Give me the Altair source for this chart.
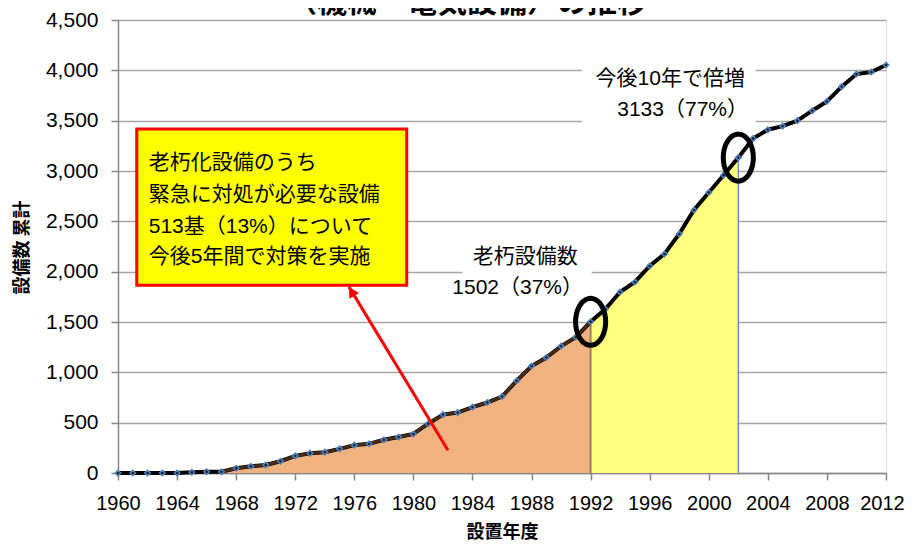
import math
import altair as alt
import pandas as pd

# ---- data ----
years = list(range(1960, 2013))
counts = [0, 0, 0, 0, 0, 7, 13, 13, 47, 67, 80, 117, 170, 197, 207, 240, 277, 290, 330, 357, 388,
          490, 580, 600, 654, 700, 760, 917, 1063, 1147, 1260, 1350, 1502,
          1629, 1798, 1898, 2057, 2176, 2375, 2613, 2786, 2958, 3133, 3323, 3410, 3446, 3500,
          3599, 3692, 3838, 3963, 3983, 4053]
tick_years = list(range(1960, 2013, 4))
y_ticks = list(range(0, 4501, 500))

aged_year = 1992
future_year = 2002
urgent_count = 513

title_text = "（機械・電気設備）の推移"
x_title = "設置年度"
y_title = "設備数 累計"

df = pd.DataFrame({"year": years, "count": counts})
total = counts[-1]
aged_count = counts[years.index(aged_year)]
future_count = counts[years.index(future_year)]
df_old = df[df.year <= aged_year]
df_fut = df[(df.year >= aged_year) & (df.year <= future_year)]

JP = "Liberation Sans, Noto Sans CJK JP"
NUM = "Liberation Sans"

xs = alt.Scale(domain=[1960, 2012], nice=False, zero=False)
ys = alt.Scale(domain=[0, 4500], nice=False, zero=True)

xaxis = alt.Axis(values=tick_years, format="d", title=x_title, grid=False,
                 labelFlush=False, labelOverlap=False, labelBound=False,
                 labelOffset={"condition": {"test": f"datum.value == {tick_years[-1]}", "value": -4}, "value": 0},
                 labelFont=NUM, labelFontSize=20, labelColor="#000000", labelPadding=13,
                 tickSize=7, tickColor="#868686", tickWidth=1.5,
                 domainColor="#868686", domainWidth=1.5,
                 titleFont="Noto Sans CJK JP", titleFontSize=18, titleFontWeight="bold",
                 titleColor="#000000", titleX=384, titleY=59, titleAlign="center",
                 titleBaseline="middle", titleAnchor="start")
yaxis = alt.Axis(values=y_ticks, format=",d", title=y_title, grid=True,
                 gridColor="#A6A6A6", gridWidth=1.5,
                 labelFont=NUM, labelFontSize=21, labelColor="#000000", labelPadding=13,
                 tickSize=7, tickColor="#868686", tickWidth=1.5,
                 domainColor="#868686", domainWidth=1.5,
                 titleFont="Noto Sans CJK JP", titleFontSize=18, titleFontWeight="bold",
                 titleColor="#000000", titleX=-96, titleY=227, titleAngle=270,
                 titleAlign="center", titleBaseline="middle", titleAnchor="start")

X = alt.X("year:Q", scale=xs, axis=xaxis)
Y = alt.Y("count:Q", scale=ys, axis=yaxis)

area_old = alt.Chart(df_old).mark_area(color="#F0B280", opacity=1).encode(x=X, y=Y)
area_fut = alt.Chart(df_fut).mark_area(color="#FFFF80", opacity=1).encode(x=X, y=Y)

vlines = pd.DataFrame({"year": [aged_year, future_year], "count": [aged_count, future_count],
                       "zero": [0, 0], "kind": ["old", "fut"]})
vrule = alt.Chart(vlines).mark_rule().encode(
    x=X, y=Y, y2=alt.Y2("zero:Q"),
    color=alt.Color("kind:N", scale=alt.Scale(domain=["old", "fut"], range=["#9C8070", "#4F81BD"]), legend=None),
    strokeWidth=alt.StrokeWidth("kind:N", scale=alt.Scale(domain=["old", "fut"], range=[2, 1.2]), legend=None),
)

# white label backgrounds
white_boxes = pd.DataFrame({"year": [1983.33, 1991.4], "year2": [1992.07, 2003.17],
                            "count": [2263, 4122], "count2": [1717, 3424]})
wbox = alt.Chart(white_boxes).mark_rect(color="#FFFFFF").encode(
    x=X, x2=alt.X2("year2:Q"), y=Y, y2=alt.Y2("count2:Q"))

line = alt.Chart(df).mark_line(color="#000000", strokeWidth=4).encode(x=X, y=Y)
line_old = alt.Chart(df_old[df_old.year >= 1967]).mark_line(color="#5C3A1E", strokeWidth=3, opacity=0.75).encode(x=X, y=Y)
markers = alt.Chart(df).mark_point(shape="diamond", filled=True, size=30, fill="#1A2430",
                                   stroke="#4F81BD", strokeWidth=1.5, opacity=1).encode(x=X, y=Y)

# ellipse highlights
n = 40
pts = [(0.64 * math.sin(2 * math.pi * i / n), -math.cos(2 * math.pi * i / n)) for i in range(n)]
ellipse = "M " + " L ".join(f"{a:.4f} {b:.4f}" for a, b in pts) + " Z"
circ_df = pd.DataFrame({"year": [aged_year, future_year], "count": [aged_count, future_count]})
circles = alt.Chart(circ_df).mark_point(shape=ellipse, filled=False, size=2209, color="#000000",
                                        strokeWidth=5, opacity=1).encode(x=X, y=Y)

# callout box
callout = pd.DataFrame({"year": [1961.27], "year2": [1979.55], "count": [3416], "count2": [1866]})
cbox = alt.Chart(callout).mark_rect(fill="#FFFF00", stroke="#FF0000", strokeWidth=3).encode(
    x=X, x2=alt.X2("year2:Q"), y=Y, y2=alt.Y2("count2:Q"))

callout_lines = ["老朽化設備のうち", "緊急に対処が必要な設備",
                 f"{urgent_count}基（{round(urgent_count / total * 100)}%）について",
                 "今後5年間で対策を実施"]
ctext_df = pd.DataFrame({"year": [1962.08] * 4, "count": [3079, 2759, 2447, 2148], "t": callout_lines})
ctext = alt.Chart(ctext_df).mark_text(align="left", baseline="middle", font=JP, fontSize=21,
                                      color="#000000").encode(x=X, y=Y, text="t:N")

# arrow
arrow_df = pd.DataFrame({"year": [1982.34], "count": [226], "year2": [1975.64], "count2": [1849]})
arrow = alt.Chart(arrow_df).mark_rule(color="#FF0000", strokeWidth=3).encode(
    x=X, y=Y, x2=alt.X2("year2:Q"), y2=alt.Y2("count2:Q"))
head_df = pd.DataFrame({"year": [1975.82], "count": [1802]})
head = alt.Chart(head_df).mark_point(shape="triangle-up", filled=True, size=130, color="#FF0000",
                                     angle=329, opacity=1).encode(x=X, y=Y)

# labels
lab_df = pd.DataFrame({
    "year": [1987.57, 1987.06, 1997.39, 1998.23],
    "count": [2144, 1836, 3913, 3605],
    "t": ["老朽設備数", f"{aged_count}（{round(aged_count / total * 100)}%）",
          "今後10年で倍増", f"{future_count}（{round(future_count / total * 100)}%）"],
})
labels = alt.Chart(lab_df).mark_text(align="center", baseline="middle", font=JP, fontSize=21,
                                     color="#000000").encode(x=X, y=Y, text="t:N")

title = alt.Chart(pd.DataFrame({"t": [title_text]})).mark_text(
    align="center", baseline="bottom", font="Noto Sans CJK JP", fontSize=30, fontWeight="bold",
    color="#000000").encode(x=alt.value(349), y=alt.value(-2), text="t:N")

chart = alt.layer(area_old, area_fut, vrule, wbox, line, line_old, markers, circles,
                  cbox, ctext, arrow, head, labels, title).properties(
    width=768, height=453,
    autosize=alt.AutoSizeParams(type="none"),
    padding={"left": 110, "top": 12, "right": 19, "bottom": 68},
).configure_view(strokeWidth=0).configure(background="#FFFFFF")

chart.save("out.html", embed_options={"renderer": "svg", "actions": False})
